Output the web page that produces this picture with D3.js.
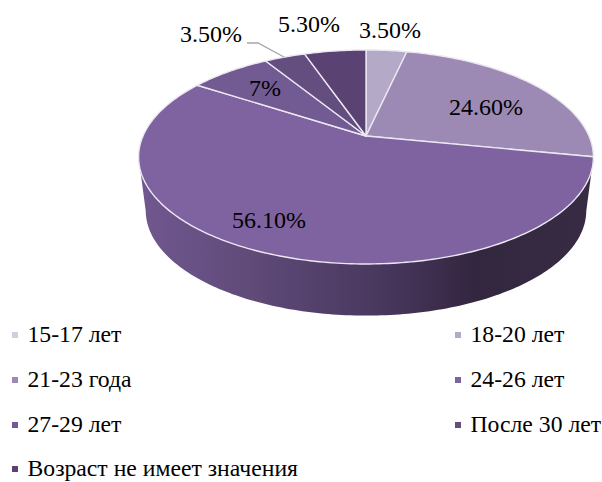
<!DOCTYPE html>
<meta charset="utf-8">
<title>Возраст</title>
<style>
	html, body { margin: 0; background: #fff; }
	text { font-family: "Liberation Serif", serif; fill: #000; }
	.lab { font-size: 24px; }
	.leg { font-size: 23.7px; }
</style>
<body>
<script src="https://d3js.org/d3.v7.min.js"></script>
<script>
const categories = ['15-17 лет', '18-20 лет', '21-23 года', '24-26 лет', '27-29 лет', 'После 30 лет', 'Возраст не имеет значения'];
const values = [0, 3.5, 24.6, 56.1, 7, 3.5, 5.3];
const valueLabels = ['', '3.50%', '24.60%', '56.10%', '7%', '3.50%', '5.30%'];
const colors = ['#d3cddf', '#b4a9c6', '#9c8ab4', '#7f62a0', '#725a92', '#644e80', '#5a4272'];

const width = 602, height = 482;
const svg = d3.select('body').append('svg').attr('width', width).attr('height', height).style('display', 'block');

// tilted circle with perspective, apex is not the middle of the ellipse
const cx = 366, cy = 136, persp = 0.196;
function project(a, rx, ry, dy) {
	const w = 1 + persp * Math.cos(a);
	return [cx + rx * Math.sin(a) / w, cy + dy - ry * Math.cos(a) / w];
}
const topEdge = a => project(a, 223, 102.9, 0);
const bottomEdge = a => project(a, 216, 101, 54);

const pie = d3.pie().sort(null).value(d => d);
const arcs = pie(values);
const line = d3.line();

function sweep(a0, a1, fn) {
	const n = Math.max(2, Math.ceil((a1 - a0) * 60));
	return d3.range(n + 1).map(i => fn(a0 + (a1 - a0) * i / n));
}

const defs = svg.append('defs');
const wallGrad = defs.append('linearGradient').attr('id', 'wall')
	.attr('gradientUnits', 'userSpaceOnUse').attr('x1', 139).attr('x2', 594).attr('y1', 0).attr('y2', 0);
[[0, '#715890'], [0.25, '#5f4a78'], [0.55, '#47365c'], [0.74, '#33263f'], [1, '#382b44']].forEach(s => {
	wallGrad.append('stop').attr('offset', s[0]).attr('stop-color', s[1]);
});

// side wall, only the front part of the rim shows
const wallFrom = Math.PI / 2 + 0.2, wallTo = Math.PI * 1.5 - 0.2;
const wallPts = sweep(wallFrom, wallTo, topEdge).concat(sweep(wallFrom, wallTo, bottomEdge).reverse());
svg.append('path').attr('d', line(wallPts) + 'Z').attr('fill', 'url(#wall)');

// top slices
const slices = svg.append('g');
arcs.forEach((d, i) => {
	if (d.value === 0) return;
	const pts = [[cx, cy]].concat(sweep(d.startAngle, d.endAngle, topEdge));
	slices.append('path')
		.attr('d', line(pts) + 'Z')
		.attr('fill', colors[i])
		.attr('stroke', '#ece8f2')
		.attr('stroke-width', 1.4)
		.attr('stroke-linejoin', 'round');
});

// leader line for the small slice
svg.append('path').attr('d', line([[247, 43], [258, 43], [284, 57]]))
	.attr('fill', 'none').attr('stroke', '#a6a6a6').attr('stroke-width', 1.3);

// data labels
const labelPos = [null, [390, 38], [486, 115], [269, 228], [265, 96], [211, 42], [309, 32]];
valueLabels.forEach((t, i) => {
	if (!t) return;
	svg.append('text').attr('class', 'lab').attr('text-anchor', 'middle')
		.attr('x', labelPos[i][0]).attr('y', labelPos[i][1]).text(t);
});

// legend
const legendPos = [[12, 342], [455, 342], [12, 387], [455, 387], [12, 432], [455, 432], [12, 476]];
categories.forEach((c, i) => {
	const p = legendPos[i];
	svg.append('rect').attr('x', p[0]).attr('y', p[1] - 10).attr('width', 6).attr('height', 6).attr('fill', colors[i]);
	svg.append('text').attr('class', 'leg').attr('x', p[0] + 15.5).attr('y', p[1]).text(c);
});
</script>
</body>
